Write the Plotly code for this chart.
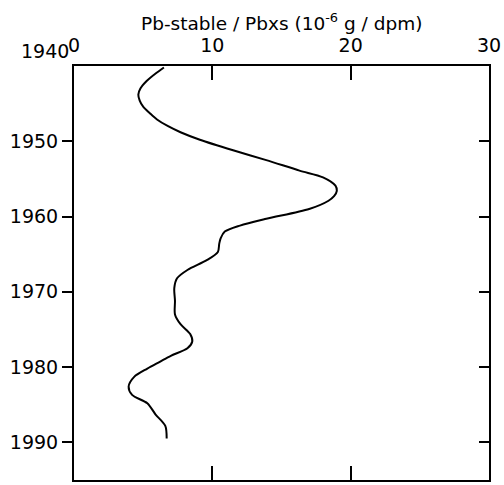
import plotly.graph_objects as go

years = [1940.2, 1941.0, 1942.0, 1943.0, 1943.8, 1944.6, 1945.4, 1946.3, 1947.1, 1948.0,
         1948.8, 1949.8, 1951.2, 1952.5, 1953.9, 1954.8, 1955.9, 1956.6, 1957.3, 1957.9,
         1959.0, 1960.3, 1961.2, 1962.0, 1962.9, 1963.6, 1964.7, 1965.8, 1967.1, 1968.2,
         1969.5, 1971.2, 1973.0, 1974.3, 1975.6, 1976.6, 1977.5, 1978.5, 1979.3, 1980.2,
         1981.3, 1982.6, 1983.7, 1984.8, 1986.3, 1987.8, 1989.5]
ratio = [6.5, 5.9, 5.25, 4.8, 4.65, 4.75, 5.0, 5.5, 6.0, 6.8,
         7.7, 9.1, 11.5, 13.9, 16.3, 18.0, 18.9, 19.0, 18.8, 18.4,
         17.0, 13.9, 12.0, 10.9, 10.6, 10.5, 10.4, 9.6, 8.2, 7.45,
         7.25, 7.3, 7.3, 7.7, 8.4, 8.55, 8.2, 7.0, 6.2, 5.3,
         4.35, 3.95, 4.2, 5.3, 5.9, 6.6, 6.7]

x_ticks = [0, 10, 20, 30]
y_ticks = [1950, 1960, 1970, 1980, 1990]
top_year = 1940
title_text = "Pb-stable / Pbxs (10<sup>-6</sup> g / dpm)"

FONT = "DejaVu Sans"

fig = go.Figure()
fig.add_trace(go.Scatter(x=ratio, y=years, mode="lines",
                         line=dict(color="black", width=2, shape="spline", smoothing=0.8),
                         hoverinfo="skip", showlegend=False))
fig.add_trace(go.Scatter(x=ratio, y=years, mode="lines", yaxis="y2",
                         line=dict(color="rgba(0,0,0,0)", width=0),
                         hoverinfo="skip", showlegend=False))

fig.update_layout(
    width=504, height=485,
    margin=dict(l=74, r=14, t=66, b=3),
    paper_bgcolor="white", plot_bgcolor="white",
    font=dict(family=FONT, color="black"),
    xaxis=dict(range=[0, 30], side="top", tickvals=x_ticks,
               ticktext=[str(v) for v in x_ticks],
               ticks="inside", ticklen=14, tickwidth=1.5, tickcolor="black",
               showline=True, linecolor="black", linewidth=2, mirror="ticks",
               showgrid=False, zeroline=False, ticklabelstandoff=4,
               tickfont=dict(size=19, family=FONT)),
    yaxis=dict(range=[1995, 1940], tickvals=y_ticks,
               ticktext=[str(v) for v in y_ticks],
               ticks="outside", ticklen=10, tickwidth=1.5, tickcolor="black",
               showline=True, linecolor="black", linewidth=2,
               showgrid=False, zeroline=False,
               tickfont=dict(size=19, family=FONT)),
    yaxis2=dict(range=[1995, 1940], overlaying="y", side="right", tickvals=y_ticks,
                ticks="inside", ticklen=10, tickwidth=1.5, tickcolor="black",
                showticklabels=False, showline=True, linecolor="black", linewidth=2,
                showgrid=False, zeroline=False),
)

fig.add_annotation(text=title_text, xref="paper", yref="paper", x=0.5, y=1,
                   xanchor="center", yanchor="bottom", yshift=30,
                   showarrow=False, font=dict(size=18.5, family=FONT, color="black"))

fig.add_annotation(text=str(top_year), xref="paper", yref="y", x=0, y=top_year,
                   xanchor="right", yanchor="middle", xshift=-3, yshift=15,
                   showarrow=False, font=dict(size=19, family=FONT, color="black"))

fig.write_html("out.html")
